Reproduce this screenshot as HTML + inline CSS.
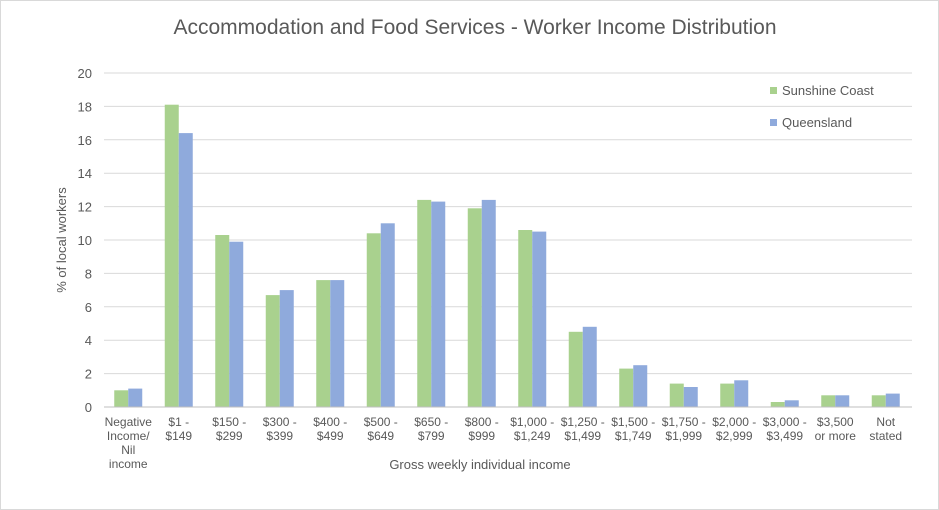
<!DOCTYPE html>
<html><head><meta charset="utf-8"><style>body{margin:0;background:#fff}svg{display:block;font-family:"Liberation Sans",sans-serif}</style></head><body>
<svg width="939" height="510" viewBox="0 0 939 510" xmlns="http://www.w3.org/2000/svg">
<rect x="0.5" y="0.5" width="938" height="509" fill="#fff" stroke="#d9d9d9"/>
<text x="475" y="34" text-anchor="middle" font-size="21" fill="#595959">Accommodation and Food Services - Worker Income Distribution</text>
<g stroke="#d9d9d9" stroke-width="1">
<line x1="104" x2="912" y1="73" y2="73"/>
<line x1="104" x2="912" y1="106.4" y2="106.4"/>
<line x1="104" x2="912" y1="139.8" y2="139.8"/>
<line x1="104" x2="912" y1="173.2" y2="173.2"/>
<line x1="104" x2="912" y1="206.6" y2="206.6"/>
<line x1="104" x2="912" y1="240" y2="240"/>
<line x1="104" x2="912" y1="273.4" y2="273.4"/>
<line x1="104" x2="912" y1="306.8" y2="306.8"/>
<line x1="104" x2="912" y1="340.2" y2="340.2"/>
<line x1="104" x2="912" y1="373.6" y2="373.6"/>
</g>
<g font-size="13" fill="#595959" text-anchor="end">
<text x="92" y="78">20</text><text x="92" y="111.4">18</text><text x="92" y="144.8">16</text><text x="92" y="178.2">14</text><text x="92" y="211.6">12</text><text x="92" y="245">10</text><text x="92" y="278.4">8</text><text x="92" y="311.8">6</text><text x="92" y="345.2">4</text><text x="92" y="378.6">2</text><text x="92" y="412">0</text>
</g>
<g fill="#A9D18E">
<rect x="114.25" y="390.3" width="14" height="16.7"/>
<rect x="164.75" y="104.7" width="14" height="302.3"/>
<rect x="215.25" y="235" width="14" height="172"/>
<rect x="265.75" y="295.1" width="14" height="111.9"/>
<rect x="316.25" y="280.1" width="14" height="126.9"/>
<rect x="366.75" y="233.3" width="14" height="173.7"/>
<rect x="417.25" y="199.9" width="14" height="207.1"/>
<rect x="467.75" y="208.3" width="14" height="198.7"/>
<rect x="518.25" y="230" width="14" height="177"/>
<rect x="568.75" y="331.8" width="14" height="75.2"/>
<rect x="619.25" y="368.6" width="14" height="38.4"/>
<rect x="669.75" y="383.6" width="14" height="23.4"/>
<rect x="720.25" y="383.6" width="14" height="23.4"/>
<rect x="770.75" y="402" width="14" height="5"/>
<rect x="821.25" y="395.3" width="14" height="11.7"/>
<rect x="871.75" y="395.3" width="14" height="11.7"/>
</g>
<g fill="#8FAADC">
<rect x="128.25" y="388.6" width="14" height="18.4"/>
<rect x="178.75" y="133.1" width="14" height="273.9"/>
<rect x="229.25" y="241.7" width="14" height="165.3"/>
<rect x="279.75" y="290.1" width="14" height="116.9"/>
<rect x="330.25" y="280.1" width="14" height="126.9"/>
<rect x="380.75" y="223.3" width="14" height="183.7"/>
<rect x="431.25" y="201.6" width="14" height="205.4"/>
<rect x="481.75" y="199.9" width="14" height="207.1"/>
<rect x="532.25" y="231.6" width="14" height="175.4"/>
<rect x="582.75" y="326.8" width="14" height="80.2"/>
<rect x="633.25" y="365.2" width="14" height="41.8"/>
<rect x="683.75" y="387" width="14" height="20"/>
<rect x="734.25" y="380.3" width="14" height="26.7"/>
<rect x="784.75" y="400.3" width="14" height="6.7"/>
<rect x="835.25" y="395.3" width="14" height="11.7"/>
<rect x="885.75" y="393.6" width="14" height="13.4"/>
</g>
<line x1="104" x2="912" y1="407" y2="407" stroke="#bfbfbf"/>
<g font-size="12" fill="#595959" text-anchor="middle">
<text x="128.25" y="426">Negative</text><text x="128.25" y="440">Income/</text><text x="128.25" y="454">Nil</text><text x="128.25" y="468">income</text>
<text x="178.75" y="426">$1 -</text><text x="178.75" y="440">$149</text>
<text x="229.25" y="426">$150 -</text><text x="229.25" y="440">$299</text>
<text x="279.75" y="426">$300 -</text><text x="279.75" y="440">$399</text>
<text x="330.25" y="426">$400 -</text><text x="330.25" y="440">$499</text>
<text x="380.75" y="426">$500 -</text><text x="380.75" y="440">$649</text>
<text x="431.25" y="426">$650 -</text><text x="431.25" y="440">$799</text>
<text x="481.75" y="426">$800 -</text><text x="481.75" y="440">$999</text>
<text x="532.25" y="426">$1,000 -</text><text x="532.25" y="440">$1,249</text>
<text x="582.75" y="426">$1,250 -</text><text x="582.75" y="440">$1,499</text>
<text x="633.25" y="426">$1,500 -</text><text x="633.25" y="440">$1,749</text>
<text x="683.75" y="426">$1,750 -</text><text x="683.75" y="440">$1,999</text>
<text x="734.25" y="426">$2,000 -</text><text x="734.25" y="440">$2,999</text>
<text x="784.75" y="426">$3,000 -</text><text x="784.75" y="440">$3,499</text>
<text x="835.25" y="426">$3,500</text><text x="835.25" y="440">or more</text>
<text x="885.75" y="426">Not</text><text x="885.75" y="440">stated</text>
</g>
<text x="480" y="469" text-anchor="middle" font-size="13" fill="#595959">Gross weekly individual income</text>
<text transform="translate(66,240) rotate(-90)" text-anchor="middle" font-size="13" fill="#595959">% of local workers</text>
<rect x="770" y="87" width="7" height="7" fill="#A9D18E"/>
<text x="782" y="95" font-size="13" fill="#595959">Sunshine Coast</text>
<rect x="770" y="119" width="7" height="7" fill="#8FAADC"/>
<text x="782" y="127" font-size="13" fill="#595959">Queensland</text>
</svg>
</body></html>
